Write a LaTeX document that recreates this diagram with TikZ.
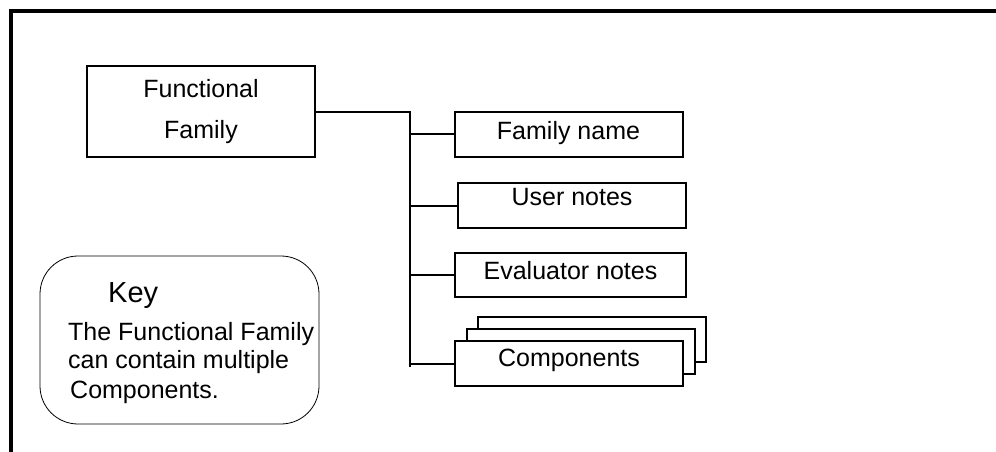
\documentclass[tikz,border=0pt]{standalone}
\usepackage{fontspec}
\setmainfont{Liberation Sans}

\begin{document}
\begin{tikzpicture}[x=1pt,y=-1pt,
  itembox/.style={draw, line width=2pt, fill=white, minimum width=228pt,
    minimum height=45pt, inner sep=0pt, text height=18pt, text depth=8pt,
    font=\fontsize{25}{30}\selectfont},
  link/.style={line width=2pt},
  keytext/.style={anchor=base west, inner sep=0pt, font=\fontsize{25}{30}\selectfont}]
  \def\trunkX{410}

  % Frame
  \useasboundingbox (0,0) rectangle (996,451);
  \draw[line width=4pt] (11,455) -- (11,11) -- (1000,11);

  % Functional Family box
  \node[draw, line width=2pt, minimum width=228pt, minimum height=91pt, align=center,
    font=\fontsize{25}{41}\selectfont] (ff) at (201,111.5) {Functional\\Family};

  % Items
  \node[itembox] (famname) at (568.5,134) {Family name};
  \node[itembox, text depth=19pt] (usernotes) at (572,205.5) {User notes};
  \node[itembox, minimum width=231pt, minimum height=44pt, text depth=9pt] (evalnotes) at (570.5,275) {Evaluator notes};

  % Components stack
  \node[itembox] (compback) at (592,339.5) {};
  \node[itembox] (compmid) at (580.5,351.5) {};
  \node[itembox, text depth=12pt] (comp) at (569,363.5) {Components};

  % Connectors
  \coordinate (trunkbot) at (\trunkX,367);
  \draw[link] (ff.east) -- (ff.east -| trunkbot) -- (trunkbot);
  \foreach \n in {famname,usernotes,evalnotes,comp}
    \draw[link] (trunkbot |- \n.west) -- (\n.west);

  % Key
  \node[draw, line width=0.8pt, rounded corners=38pt, minimum width=279pt,
    minimum height=168pt] (keybox) at (179.5,340) {};
  \node[keytext, font=\fontsize{29}{34}\selectfont] (keytitle) at (108,302) {Key};
  \node[keytext] (keyline1) at (68,340) {The Functional Family};
  \node[keytext] (keyline2) at (68,368) {can contain multiple};
  \node[keytext] (keyline3) at (70,398) {Components.};
\end{tikzpicture}
\end{document}
